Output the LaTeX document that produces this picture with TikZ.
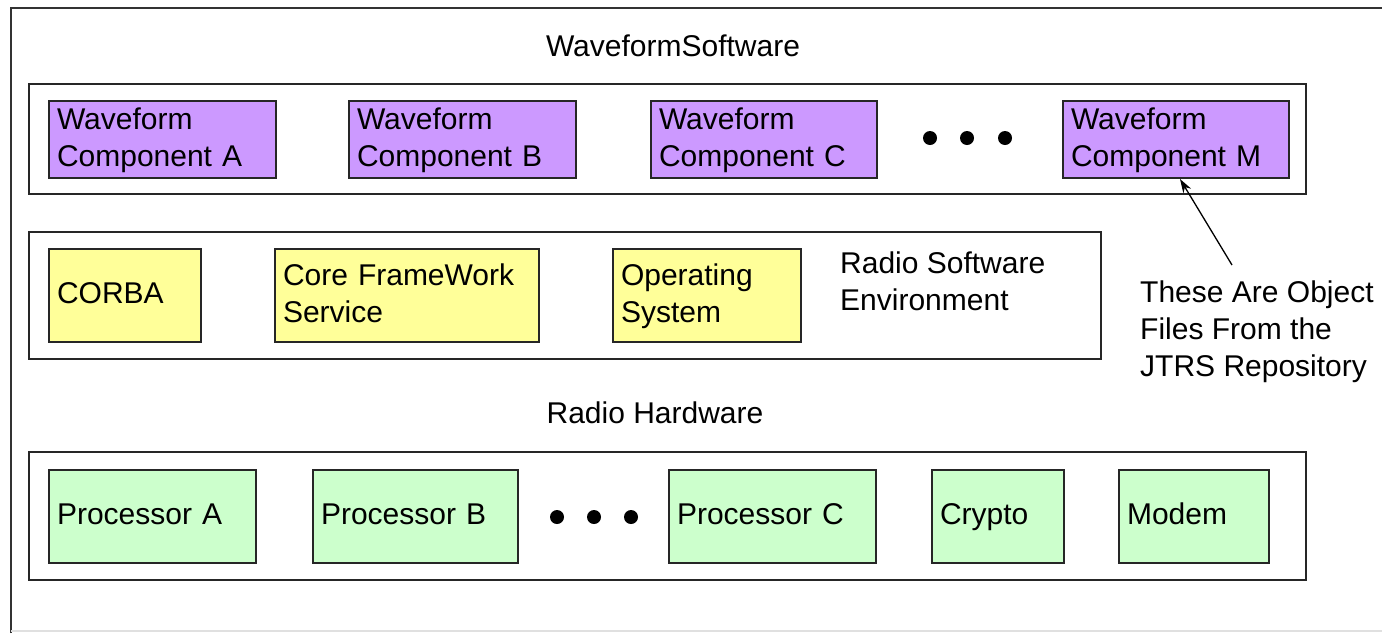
\documentclass[tikz,border=0pt]{standalone}
\usepackage{fontspec}
\setmainfont{Liberation Sans}
\usetikzlibrary{arrows.meta}
\definecolor{purp}{HTML}{CC99FF}
\definecolor{yell}{HTML}{FFFF99}
\definecolor{gree}{HTML}{CCFFCC}
\newcommand\lnstrut{\rule[-7pt]{0pt}{30pt}}
\tikzset{
  every node/.style={font=\fontsize{30pt}{37pt}\selectfont},
  group/.style={draw=black!85, line width=2pt, fill=white, anchor=north west, inner sep=0pt},
  comp/.style={draw=black!85, line width=2pt, anchor=north west, inner xsep=8pt, inner ysep=0pt, align=left},
  wcomp/.style={comp, fill=purp},
  ycomp/.style={comp, fill=yell},
  gcomp/.style={comp, fill=gree},
  dotmark/.style={circle, fill=black, inner sep=0pt, minimum size=14pt},
  label/.style={inner sep=0pt, align=left},
}
\begin{document}
\begin{tikzpicture}[x=1pt,y=-1pt]
\useasboundingbox (0,0) rectangle (1382,633);
\clip (0,0) rectangle (1382,633);
% outer frame
\draw[line width=2pt, black!80] (11,633) -- (11,8) -- (1390,8);
\draw[line width=1.5pt, black!12] (11,631) -- (1390,631);

\node[label] (wst) at (673,46) {WaveformSoftware};
\node[group, minimum width=1277pt, minimum height=110pt] (wsw) at (28,83) {};
\node[wcomp, minimum height=77pt, text width=211pt] (wa) at (48,100) {\lnstrut Waveform\\\lnstrut Component A};
\node[wcomp, minimum height=77pt, text width=211pt] (wb) at (348,100) {\lnstrut Waveform\\\lnstrut Component B};
\node[wcomp, minimum height=77pt, text width=210pt] (wc) at (650,100) {\lnstrut Waveform\\\lnstrut Component C};
\node[wcomp, minimum height=77pt, text width=210pt] (wm) at (1062,100) {\lnstrut Waveform\\\lnstrut Component M};
\node[dotmark] (td1) at (930,138) {};
\node[dotmark] (td2) at (967,138) {};
\node[dotmark] (td3) at (1005,138) {};

\node[group, minimum width=1072pt, minimum height=127pt] (rse) at (28,231) {};
\node[ycomp, minimum height=93pt, text width=136pt] (corba) at (48,248) {\lnstrut CORBA};
\node[ycomp, minimum height=93pt, text width=248pt] (cfs) at (274,248) {\lnstrut Core FrameWork\\\lnstrut Service};
\node[ycomp, minimum height=93pt, text width=172pt] (os) at (612,248) {\lnstrut Operating\\\lnstrut System};
\node[label, anchor=west] (rsel) at (840,284) {\lnstrut Radio Software\\\lnstrut Environment};

\node[label] (rhw) at (655,413) {Radio Hardware};
\node[group, minimum width=1277pt, minimum height=128pt] (hw) at (28,451) {};
\node[gcomp, minimum height=93pt, text width=191pt] (pa) at (48,469) {\lnstrut Processor A};
\node[gcomp, minimum height=93pt, text width=189pt] (pb) at (312,469) {\lnstrut Processor B};
\node[gcomp, minimum height=93pt, text width=191pt] (pc) at (668,469) {\lnstrut Processor C};
\node[gcomp, minimum height=93pt, text width=116pt] (cr) at (931,469) {\lnstrut Crypto};
\node[gcomp, minimum height=93pt, text width=134pt] (mo) at (1118,469) {\lnstrut Modem};
\node[dotmark] (bd1) at (557,517) {};
\node[dotmark] (bd2) at (594,517) {};
\node[dotmark] (bd3) at (631,517) {};

\node[label, anchor=north west] (note) at (1140,281) {These Are Object\\Files From the\\JTRS Repository};
\coordinate (nt) at (1232,265);
\draw[line width=1.3pt, -{Stealth[length=14pt, width=9pt]}] (nt) -- (wm.south -| 1180,0);
\end{tikzpicture}
\end{document}
